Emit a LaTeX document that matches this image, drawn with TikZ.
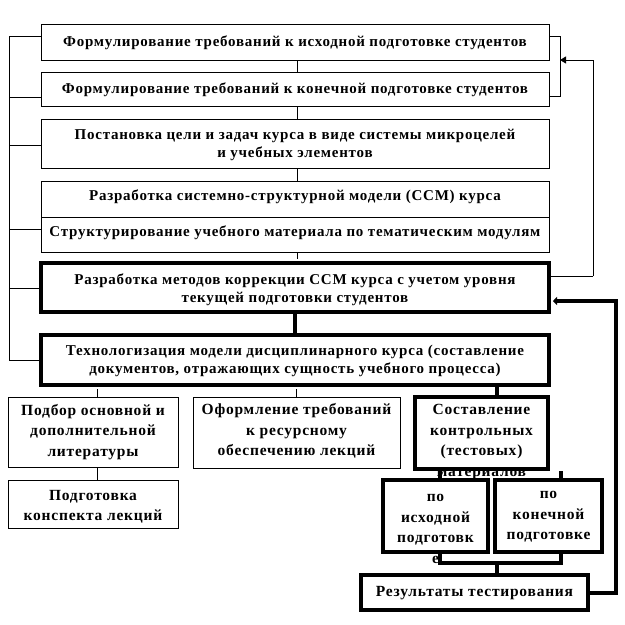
\documentclass[tikz,border=0pt]{standalone}
\usepackage{fontspec}
\setmainfont{Liberation Serif}[LetterSpace=5]
\usetikzlibrary{arrows.meta}
\tikzset{
  thinbox/.style={draw, line width=1pt, minimum width=#1, inner sep=0pt},
  thickbox/.style={draw, line width=4pt, inner sep=0pt},
  txt/.style={align=center, inner sep=0pt, font=\bfseries\fontsize{15}{18}\selectfont},
  txtb/.style={align=center, inner sep=0pt, font=\bfseries\fontsize{15.5}{20.5}\selectfont},
  thinline/.style={line width=1pt},
  thickline/.style={line width=4pt},
  tipthin/.style={-{Triangle[length=6pt,width=7pt]}},
  tipthick/.style={-{Triangle[length=4pt,width=8pt]}}
}
\begin{document}
\begin{tikzpicture}[x=1pt,y=-1pt]
\useasboundingbox[fill=white] (0,0) rectangle (625,625);
% top boxes
\node[thinbox=508pt, minimum height=36pt] (b1) at (295,42) {};
\node[txt] (t1) at (295,43) {Формулирование требований к исходной подготовке студентов};
\node[thinbox=508pt, minimum height=34pt] (b2) at (295,89) {};
\node[txt] (t2) at (295,90) {Формулирование требований к конечной подготовке студентов};
\node[thinbox=508pt, minimum height=49pt] (b3) at (295,143.5) {};
\node[txt] (t3) at (295,145) {Постановка цели и задач курса в виде системы микроцелей\\и учебных элементов};
\node[thinbox=508pt, minimum height=36pt] (b4) at (295,199) {};
\node[txt] (t4) at (295,197) {Разработка системно-структурной модели (ССМ) курса};
\node[thinbox=508pt, minimum height=35pt] (b5) at (295,234.5) {};
\node[txt] (t5) at (295,233) {Структурирование учебного материала по тематическим модулям};
\node[thickbox, minimum width=508pt, minimum height=49pt] (b6) at (295,287.5) {};
\node[txt] (t6) at (295,290) {Разработка методов коррекции ССМ курса с учетом уровня\\текущей подготовки студентов};
\node[thickbox, minimum width=508pt, minimum height=50pt] (b7) at (295,360) {};
\node[txt] (t7) at (295,361) {Технологизация модели дисциплинарного курса (составление\\документов, отражающих сущность учебного процесса)};
% lower boxes
\node[thinbox=170pt, minimum height=70pt] (b8) at (93,432) {};
\node[txtb] (t8) at (93,432) {Подбор основной и\\дополнительной\\литературы};
\node[thinbox=207pt, minimum height=71pt] (b9) at (296.5,432.5) {};
\node[txtb] (t9) at (296.5,431) {Оформление требований\\к ресурсному\\обеспечению лекций};
\node[txtb] (t10) at (481.5,442) {Составление\\контрольных\\(тестовых)\\материалов};
\node[thickbox, minimum width=133pt, minimum height=72pt] (b10) at (481.5,433) {};
\node[thinbox=170pt, minimum height=48pt] (b11) at (93,504) {};
\node[txtb] (t11) at (93,507) {Подготовка\\конспекта лекций};
\node[txtb] (t12) at (435.5,529) {по\\исходной\\подготовк\\е};
\node[thickbox, minimum width=105pt, minimum height=72pt] (b12) at (435.5,516) {};
\node[thickbox, minimum width=107pt, minimum height=72pt] (b13) at (548.5,516) {};
\node[txtb] (t13) at (548.5,517) {по\\конечной\\подготовке};
\node[thickbox, minimum width=227pt, minimum height=35pt] (b14) at (474.5,592.5) {};
\node[txtb] (t14) at (474.5,593) {Результаты тестирования};
% coordinates
\coordinate (lt) at (9,36);
\coordinate (lb) at (9,360);
\coordinate (rt) at (560,36);
\coordinate (rb) at (560,96);
\coordinate (ra) at (593,60);
\coordinate (rc) at (593,276);
\coordinate (fa) at (616,593);
\coordinate (fb) at (616,301);
\coordinate (bl) at (440,563);
\coordinate (br) at (561,563);
\coordinate (bm) at (497,563);
% thin vertical connectors
\draw[thinline] (b1.south -| 297,0) -- (b2.north -| 297,0);
\draw[thinline] (b2.south -| 297,0) -- (b3.north -| 297,0);
\draw[thinline] (b3.south -| 297,0) -- (b4.north -| 297,0);
\draw[thinline] (b5.south -| 297,0) -- ([yshift=2pt]b6.north -| 297,0);
\draw[thinline] ([yshift=-2pt]b7.south -| b8.north) ++(4,0) -- ([xshift=4pt]b8.north);
\draw[thinline] ([yshift=-2pt]b7.south -| b9.north) -- (b9.north);
\draw[thinline] ([xshift=4pt]b8.south) -- ([xshift=4pt]b11.north);
% left bracket
\draw[thinline] (b1.west |- lt) -- (lt) -- (lb) -- ([xshift=2pt]b7.west |- lb);
\draw[thinline] (b2.west |- 0,97) -- (lt |- 0,97);
\draw[thinline] (b3.west |- 0,145) -- (lt |- 0,145);
\draw[thinline] (b5.west |- 0,229) -- (lt |- 0,229);
\draw[thinline] ([xshift=2pt]b6.west |- 0,288) -- (lt |- 0,288);
% right bracket and arrow
\draw[thinline] (b1.east |- rt) -- (rt) -- (rb) -- (b2.east |- rb);
\draw[thinline, tipthin] (rc) -- (ra) -- (rt |- ra);
\draw[thinline] (rc) -- ([xshift=-2pt]b6.east |- rc);
% thick connectors
\draw[thickline] (b6.south) -- (b7.north);
\draw[thickline] (b7.south -| bm) -- (b10.north -| bm);
\draw[thickline] (b10.south -| bl) -- (b12.north -| bl);
\draw[thickline] (b10.south -| br) -- (b13.north -| br);
\draw[thickline] (b12.south -| bl) -- (bl) -- (br) -- (b13.south -| br);
\draw[thickline] (bm) -- (b14.north -| bm);
% feedback
\draw[thickline, line join=miter] (b14.east |- fa) -- (fa) -- (fb) -- ([xshift=6pt]b6.east |- fb);
\draw[thinline, tipthick] ([xshift=7pt]b6.east |- fb) -- ([xshift=2pt]b6.east |- fb);
\end{tikzpicture}
\end{document}
